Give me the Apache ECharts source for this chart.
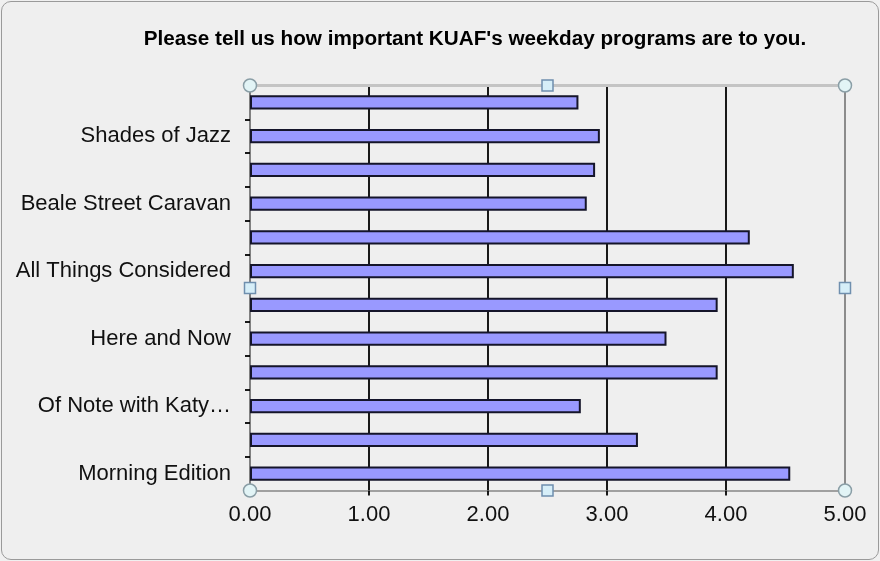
<!DOCTYPE html>
<html><head><meta charset="utf-8">
<script src="https://cdn.jsdelivr.net/npm/echarts@6/dist/echarts.min.js"></script>
<style>
html,body{margin:0;padding:0;background:#f0f0f0;}
#frame{position:absolute;left:1px;top:1px;width:876px;height:557px;border:1px solid #9a9a9a;border-radius:10px;background:#efefef;}
#c{position:absolute;left:0;top:0;width:880px;height:561px;}
</style></head>
<body><div id="frame"></div><div id="c"></div>
<script>
// categories bottom -> top (unlabeled rows are shown without text in the reference)
const categories = ['Morning Edition','Ozarks at Large','Of Note with Katy…','Fresh Air','Here and Now','Marketplace','All Things Considered','The World','Beale Street Caravan','Blues program','Shades of Jazz','Late Jazz'];
const values = [4.54, 3.26, 2.78, 3.93, 3.50, 3.93, 4.57, 4.20, 2.83, 2.90, 2.94, 2.76];
const titleText = "Please tell us how important KUAF's weekday programs are to you.";
const xMin = 0, xMax = 5, xStep = 1;

const chart = echarts.init(document.getElementById('c'), null, {renderer:'canvas'});
const labelFont = 'Liberation Sans';
chart.setOption({
  backgroundColor: 'transparent',
  animation: false,
  title: {
    text: titleText, left: 470, top: 24, textAlign: 'center',
    textStyle: {fontFamily:'Liberation Sans', fontWeight:'bold', fontSize:20.7, color:'#000'}
  },
  grid: {left: 250, right: 35, top: 85.5, bottom: 70.5, containLabel: false},
  xAxis: {
    type: 'value', min: xMin, max: xMax, interval: xStep,
    axisLine: {show:true, lineStyle:{color:'#a0a0a0', width:2}},
    axisTick: {show:true, length:5, lineStyle:{color:'#000', width:1.8}},
    axisLabel: {margin:13, fontFamily:labelFont, fontSize:22, color:'#111', formatter: v => v.toFixed(2)},
    splitLine: {show:true, showMinLine:false, showMaxLine:false, lineStyle:{color:'#000', width:1.8}}
  },
  yAxis: {
    type: 'category', data: categories,
    axisLine: {show:true, lineStyle:{color:'#808080', width:2}},
    axisTick: {show:true, interval:0, length:5, lineStyle:{color:'#000', width:1.8}},
    axisLabel: {interval:1, margin:19, fontFamily:labelFont, fontSize:22, color:'#111'},
    splitLine: {show:false}
  },
  series: [{
    type: 'bar', data: values, barWidth: '42%',
    itemStyle: {color:'#9999ff', borderColor:'#15152a', borderWidth:2},
    z: 3
  }]
});

// frame lines and selection handles around the plot area
const rect = chart.getModel().getComponent('grid').coordinateSystem.getRect();
const L = rect.x, T = rect.y, R = rect.x + rect.width, B = rect.y + rect.height;
const midX = (L + R) / 2, midY = (T + B) / 2;
const circ = (x,y) => ({type:'circle', shape:{cx:x, cy:y, r:6.5}, style:{fill:'#e2f4f6', stroke:'#8a9ea6', lineWidth:1.5}, z:100});
const sq = (x,y) => ({type:'rect', shape:{x:x-5.5, y:y-5.5, width:11, height:11}, style:{fill:'#d6eef8', stroke:'#6f8fae', lineWidth:1.5}, z:100});
chart.setOption({graphic: [
  {type:'line', shape:{x1:L, y1:T, x2:R, y2:T}, style:{stroke:'#c4c4c4', lineWidth:3}, z:50},
  {type:'line', shape:{x1:R, y1:T, x2:R, y2:B}, style:{stroke:'#8c8c8c', lineWidth:2}, z:50},
  circ(L,T), circ(R,T), circ(L,B), circ(R,B),
  sq(midX,T), sq(midX,B), sq(L,midY), sq(R,midY)
]});
</script></body></html>
